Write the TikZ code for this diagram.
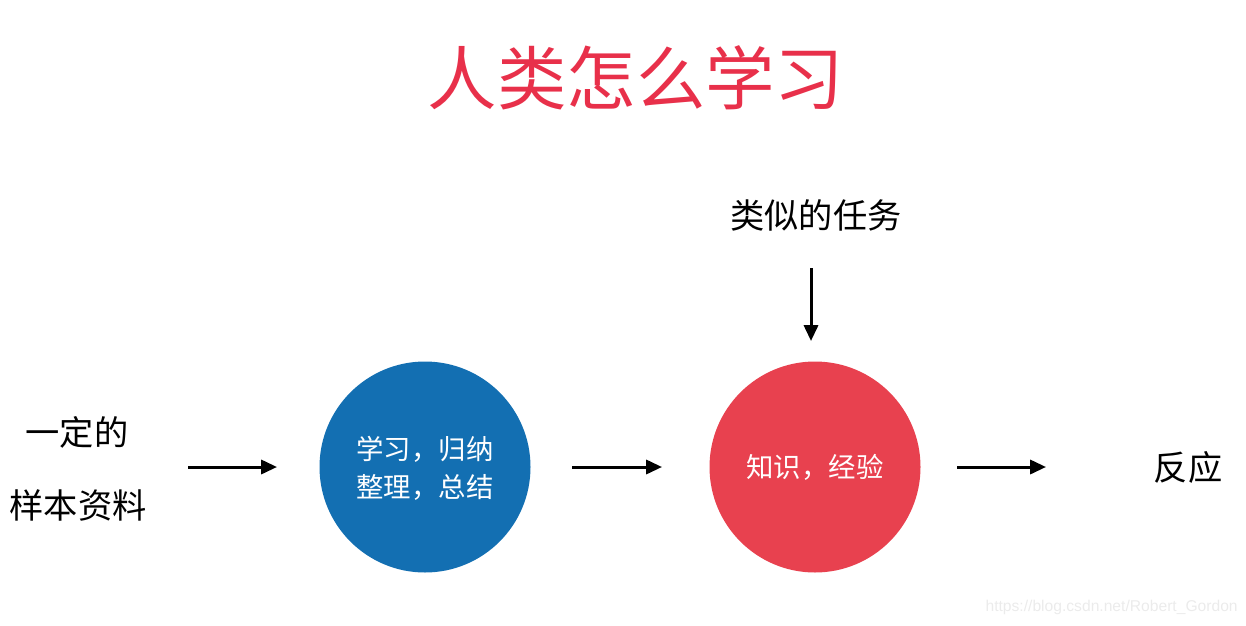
\documentclass[tikz,border=0pt]{standalone}
\usepackage{fontspec}
\newfontfamily\cjk{Noto Sans CJK SC}
\setsansfont{Liberation Sans}
\usetikzlibrary{arrows.meta}
\definecolor{titlered}{HTML}{E8304A}
\definecolor{circblue}{HTML}{136FB2}
\definecolor{circred}{HTML}{E8414F}
\definecolor{wmgray}{HTML}{EBEBEB}
\tikzset{
  lbl/.style={font=\cjk\fontsize{19.5}{24}\selectfont, inner sep=0pt},
  ctext/.style={font=\cjk\fontsize{15.6}{21.5}\selectfont, text=white, align=center, inner sep=0pt},
  blob/.style={circle, minimum size=211*0.02cm, inner sep=0pt},
  flow/.style={line width=1.7pt, -{Triangle[length=9pt,width=8pt]}},
}
\begin{document}
\begin{tikzpicture}[x=0.02cm,y=-0.02cm]
\useasboundingbox (0,0) rectangle (1246,625);
\node[font=\cjk\fontsize{39.5}{44}\selectfont, text=titlered, inner sep=0pt] (title) at (636,78) {人类怎么学习};
\node[lbl] (l1) at (77,432) {一定的};
\node[lbl] (l2) at (78,505) {样本资料};
\coordinate (a1s) at (188,467);
\node[blob, fill=circblue] (c1) at (425,467) {};
\node[ctext] (c1t) at (425,468) {学习，归纳\\整理，总结};
\node[blob, fill=circred] (c2) at (815,467) {};
\node[ctext] (c2t) at (815,467) {知识，经验};
\node[lbl] (task) at (816,215) {类似的任务};
\coordinate (vs) at (811,268);
\coordinate (ve) at (811,341);
\node[lbl] (resp) at (1188,467) {反应};
\coordinate (a3s) at (957,467);
\coordinate (a3e) at (1046,467);
\coordinate (a1e) at (277,467);
\coordinate (a2s) at (572,467);
\coordinate (a2e) at (662,467);
\draw[flow] (a1s) -- (a1e);
\draw[flow] (a2s) -- (a2e);
\draw[flow] (a3s) -- (a3e);
\draw[flow] (vs) -- (ve);
\node[font=\sffamily\fontsize{8.9}{11}\selectfont, text=wmgray, anchor=east, inner sep=0pt] (wm) at (1238,607) {https://blog.csdn.net/Robert\_Gordon};
\end{tikzpicture}
\end{document}
